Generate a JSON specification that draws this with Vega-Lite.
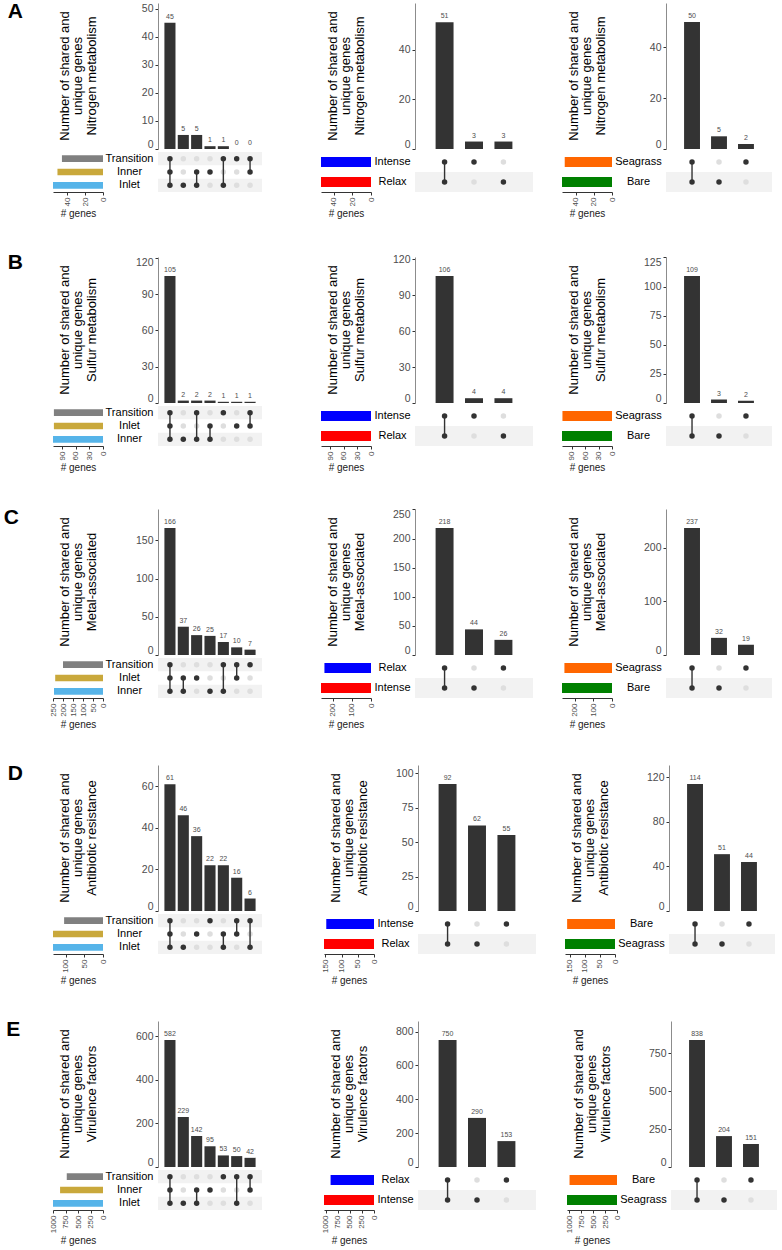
{
  "$schema": "https://vega.github.io/schema/vega-lite/v6.json",
  "padding": {"left": 3, "top": 1, "right": 2, "bottom": 2},
  "background": "white",
  "config": {
    "font": "Liberation Sans",
    "view": {"stroke": null},
    "axis": {"grid": false, "labelColor": "#4d4d4d", "tickColor": "#333333", "tickSize": 3, "labelPadding": 2, "titleFontWeight": "normal", "titleColor": "#1a1a1a", "domainColor": "#333333"},
    "title": {"orient": "left", "anchor": "end", "angle": 0, "align": "right", "baseline": "top", "fontSize": 21, "fontWeight": "bold", "offset": 15, "dy": -2, "color": "#000000"}
  },
  "datasets": {
    "panels": [
      {"p": "A1", "label": "Number of shared and\nunique genes\nNitrogen metabolism"},
      {"p": "A2", "label": "Number of shared and\nunique genes\nNitrogen metabolism"},
      {"p": "A3", "label": "Number of shared and\nunique genes\nNitrogen metabolism"},
      {"p": "B1", "label": "Number of shared and\nunique genes\nSulfur metabolism"},
      {"p": "B2", "label": "Number of shared and\nunique genes\nSulfur metabolism"},
      {"p": "B3", "label": "Number of shared and\nunique genes\nSulfur metabolism"},
      {"p": "C1", "label": "Number of shared and\nunique genes\nMetal-associated"},
      {"p": "C2", "label": "Number of shared and\nunique genes\nMetal-associated"},
      {"p": "C3", "label": "Number of shared and\nunique genes\nMetal-associated"},
      {"p": "D1", "label": "Number of shared and\nunique genes\nAntibiotic resistance"},
      {"p": "D2", "label": "Number of shared and\nunique genes\nAntibiotic resistance"},
      {"p": "D3", "label": "Number of shared and\nunique genes\nAntibiotic resistance"},
      {"p": "E1", "label": "Number of shared and\nunique genes\nVirulence factors"},
      {"p": "E2", "label": "Number of shared and\nunique genes\nVirulence factors"},
      {"p": "E3", "label": "Number of shared and\nunique genes\nVirulence factors"}
    ],
    "sets": [
      {"p": "A1", "set": "Transition", "r": 1, "size": 46},
      {"p": "A1", "set": "Inner", "r": 2, "size": 51},
      {"p": "A1", "set": "Inlet", "r": 3, "size": 56},
      {"p": "A2", "set": "Intense", "r": 1, "size": 54},
      {"p": "A2", "set": "Relax", "r": 2, "size": 54},
      {"p": "A3", "set": "Seagrass", "r": 1, "size": 52},
      {"p": "A3", "set": "Bare", "r": 2, "size": 55},
      {"p": "B1", "set": "Transition", "r": 1, "size": 109},
      {"p": "B1", "set": "Inlet", "r": 2, "size": 109},
      {"p": "B1", "set": "Inner", "r": 3, "size": 111},
      {"p": "B2", "set": "Intense", "r": 1, "size": 110},
      {"p": "B2", "set": "Relax", "r": 2, "size": 110},
      {"p": "B3", "set": "Seagrass", "r": 1, "size": 111},
      {"p": "B3", "set": "Bare", "r": 2, "size": 112},
      {"p": "C1", "set": "Transition", "r": 1, "size": 200},
      {"p": "C1", "set": "Inlet", "r": 2, "size": 239},
      {"p": "C1", "set": "Inner", "r": 3, "size": 245},
      {"p": "C2", "set": "Relax", "r": 1, "size": 244},
      {"p": "C2", "set": "Intense", "r": 2, "size": 262},
      {"p": "C3", "set": "Seagrass", "r": 1, "size": 256},
      {"p": "C3", "set": "Bare", "r": 2, "size": 269},
      {"p": "D1", "set": "Transition", "r": 1, "size": 105},
      {"p": "D1", "set": "Inner", "r": 2, "size": 135},
      {"p": "D1", "set": "Inlet", "r": 3, "size": 135},
      {"p": "D2", "set": "Intense", "r": 1, "size": 147},
      {"p": "D2", "set": "Relax", "r": 2, "size": 154},
      {"p": "D3", "set": "Bare", "r": 1, "size": 158},
      {"p": "D3", "set": "Seagrass", "r": 2, "size": 165},
      {"p": "E1", "set": "Transition", "r": 1, "size": 727},
      {"p": "E1", "set": "Inner", "r": 2, "size": 861},
      {"p": "E1", "set": "Inlet", "r": 3, "size": 1003},
      {"p": "E2", "set": "Relax", "r": 1, "size": 903},
      {"p": "E2", "set": "Intense", "r": 2, "size": 1040},
      {"p": "E3", "set": "Bare", "r": 1, "size": 989},
      {"p": "E3", "set": "Seagrass", "r": 2, "size": 1042}
    ],
    "inter": [
      {"p": "A1", "i": 1, "n": 45, "Transition": 1, "Inner": 1, "Inlet": 1},
      {"p": "A1", "i": 2, "n": 5, "Transition": 0, "Inner": 0, "Inlet": 1},
      {"p": "A1", "i": 3, "n": 5, "Transition": 0, "Inner": 1, "Inlet": 1},
      {"p": "A1", "i": 4, "n": 1, "Transition": 0, "Inner": 1, "Inlet": 0},
      {"p": "A1", "i": 5, "n": 1, "Transition": 1, "Inner": 0, "Inlet": 1},
      {"p": "A1", "i": 6, "n": 0, "Transition": 1, "Inner": 0, "Inlet": 0},
      {"p": "A1", "i": 7, "n": 0, "Transition": 1, "Inner": 1, "Inlet": 0},
      {"p": "A2", "i": 1, "n": 51, "Intense": 1, "Relax": 1},
      {"p": "A2", "i": 2, "n": 3, "Intense": 1, "Relax": 0},
      {"p": "A2", "i": 3, "n": 3, "Intense": 0, "Relax": 1},
      {"p": "A3", "i": 1, "n": 50, "Seagrass": 1, "Bare": 1},
      {"p": "A3", "i": 2, "n": 5, "Seagrass": 0, "Bare": 1},
      {"p": "A3", "i": 3, "n": 2, "Seagrass": 1, "Bare": 0},
      {"p": "B1", "i": 1, "n": 105, "Transition": 1, "Inlet": 1, "Inner": 1},
      {"p": "B1", "i": 2, "n": 2, "Transition": 0, "Inlet": 0, "Inner": 1},
      {"p": "B1", "i": 3, "n": 2, "Transition": 1, "Inlet": 0, "Inner": 1},
      {"p": "B1", "i": 4, "n": 2, "Transition": 0, "Inlet": 1, "Inner": 1},
      {"p": "B1", "i": 5, "n": 1, "Transition": 1, "Inlet": 0, "Inner": 0},
      {"p": "B1", "i": 6, "n": 1, "Transition": 0, "Inlet": 1, "Inner": 0},
      {"p": "B1", "i": 7, "n": 1, "Transition": 1, "Inlet": 1, "Inner": 0},
      {"p": "B2", "i": 1, "n": 106, "Intense": 1, "Relax": 1},
      {"p": "B2", "i": 2, "n": 4, "Intense": 1, "Relax": 0},
      {"p": "B2", "i": 3, "n": 4, "Intense": 0, "Relax": 1},
      {"p": "B3", "i": 1, "n": 109, "Seagrass": 1, "Bare": 1},
      {"p": "B3", "i": 2, "n": 3, "Seagrass": 0, "Bare": 1},
      {"p": "B3", "i": 3, "n": 2, "Seagrass": 1, "Bare": 0},
      {"p": "C1", "i": 1, "n": 166, "Transition": 1, "Inlet": 1, "Inner": 1},
      {"p": "C1", "i": 2, "n": 37, "Transition": 0, "Inlet": 1, "Inner": 1},
      {"p": "C1", "i": 3, "n": 26, "Transition": 0, "Inlet": 1, "Inner": 0},
      {"p": "C1", "i": 4, "n": 25, "Transition": 0, "Inlet": 0, "Inner": 1},
      {"p": "C1", "i": 5, "n": 17, "Transition": 1, "Inlet": 0, "Inner": 1},
      {"p": "C1", "i": 6, "n": 10, "Transition": 1, "Inlet": 1, "Inner": 0},
      {"p": "C1", "i": 7, "n": 7, "Transition": 1, "Inlet": 0, "Inner": 0},
      {"p": "C2", "i": 1, "n": 218, "Relax": 1, "Intense": 1},
      {"p": "C2", "i": 2, "n": 44, "Relax": 0, "Intense": 1},
      {"p": "C2", "i": 3, "n": 26, "Relax": 1, "Intense": 0},
      {"p": "C3", "i": 1, "n": 237, "Seagrass": 1, "Bare": 1},
      {"p": "C3", "i": 2, "n": 32, "Seagrass": 0, "Bare": 1},
      {"p": "C3", "i": 3, "n": 19, "Seagrass": 1, "Bare": 0},
      {"p": "D1", "i": 1, "n": 61, "Transition": 1, "Inner": 1, "Inlet": 1},
      {"p": "D1", "i": 2, "n": 46, "Transition": 0, "Inner": 0, "Inlet": 1},
      {"p": "D1", "i": 3, "n": 36, "Transition": 0, "Inner": 1, "Inlet": 0},
      {"p": "D1", "i": 4, "n": 22, "Transition": 1, "Inner": 0, "Inlet": 0},
      {"p": "D1", "i": 5, "n": 22, "Transition": 0, "Inner": 1, "Inlet": 1},
      {"p": "D1", "i": 6, "n": 16, "Transition": 1, "Inner": 1, "Inlet": 0},
      {"p": "D1", "i": 7, "n": 6, "Transition": 1, "Inner": 0, "Inlet": 1},
      {"p": "D2", "i": 1, "n": 92, "Intense": 1, "Relax": 1},
      {"p": "D2", "i": 2, "n": 62, "Intense": 0, "Relax": 1},
      {"p": "D2", "i": 3, "n": 55, "Intense": 1, "Relax": 0},
      {"p": "D3", "i": 1, "n": 114, "Bare": 1, "Seagrass": 1},
      {"p": "D3", "i": 2, "n": 51, "Bare": 0, "Seagrass": 1},
      {"p": "D3", "i": 3, "n": 44, "Bare": 1, "Seagrass": 0},
      {"p": "E1", "i": 1, "n": 582, "Transition": 1, "Inner": 1, "Inlet": 1},
      {"p": "E1", "i": 2, "n": 229, "Transition": 0, "Inner": 0, "Inlet": 1},
      {"p": "E1", "i": 3, "n": 142, "Transition": 0, "Inner": 1, "Inlet": 1},
      {"p": "E1", "i": 4, "n": 95, "Transition": 0, "Inner": 1, "Inlet": 0},
      {"p": "E1", "i": 5, "n": 53, "Transition": 1, "Inner": 0, "Inlet": 0},
      {"p": "E1", "i": 6, "n": 50, "Transition": 1, "Inner": 0, "Inlet": 1},
      {"p": "E1", "i": 7, "n": 42, "Transition": 1, "Inner": 1, "Inlet": 0},
      {"p": "E2", "i": 1, "n": 750, "Relax": 1, "Intense": 1},
      {"p": "E2", "i": 2, "n": 290, "Relax": 0, "Intense": 1},
      {"p": "E2", "i": 3, "n": 153, "Relax": 1, "Intense": 0},
      {"p": "E3", "i": 1, "n": 838, "Bare": 1, "Seagrass": 1},
      {"p": "E3", "i": 2, "n": 204, "Bare": 0, "Seagrass": 1},
      {"p": "E3", "i": 3, "n": 151, "Bare": 1, "Seagrass": 0}
    ]
  },
  "spacing": 33,
  "resolve": {"scale": {"x": "independent", "y": "independent", "color": "independent"}},
  "vconcat": [
    {
      "title": {"text": "A"},
      "spacing": 29,
      "resolve": {"scale": {"x": "independent", "y": "independent", "color": "independent"}},
      "hconcat": [
        {"columns": 2, "spacing": {"row": 2, "column": -2}, "resolve": {"scale": {"x": "independent", "y": "independent", "color": "independent"}},
         "concat": [
          {"width": 50, "height": 146, "data": {"name": "panels"}, "transform": [{"filter": "datum.p == 'A1'"}],
           "mark": {"type": "text", "angle": 270, "lineBreak": "\n", "fontSize": 13, "lineHeight": 13.5, "dy": -13.5, "color": "#000000"},
           "encoding": {"text": {"field": "label", "type": "nominal"}}},
          {"width": 104, "height": 146, "data": {"name": "inter"}, "transform": [{"filter": "datum.p == 'A1'"}],
           "encoding": {
             "x": {"field": "i", "type": "ordinal", "axis": null, "scale": {"paddingInner": 0.17, "paddingOuter": 0.48}},
             "y": {"field": "n", "type": "quantitative", "scale": {"domain": [0, 52], "nice": false},
                   "axis": {"values": [0, 10, 20, 30, 40, 50], "title": null, "labelFontSize": 10.5, "labelFlush": true, "domainColor": "#8c8c8c"}}},
           "layer": [
             {"mark": {"type": "bar", "color": "#333333"}},
             {"mark": {"type": "text", "baseline": "bottom", "dy": -3, "fontSize": 7, "color": "#4d4d4d"}, "encoding": {"text": {"field": "n", "type": "quantitative"}}}
           ]},
          {"width": 50, "height": 40, "data": {"name": "sets"}, "transform": [{"filter": "datum.p == 'A1'"}],
           "mark": {"type": "bar"},
           "encoding": {
             "y": {"field": "set", "type": "nominal", "axis": null, "scale": {"domain": ["Transition", "Inner", "Inlet"], "paddingInner": 0.5, "paddingOuter": 0.25}},
             "x": {"field": "size", "type": "quantitative", "scale": {"domain": [0, 56], "reverse": true, "nice": false},
                   "axis": {"values": [0, 20, 40], "labelAngle": 270, "labelFontSize": 8, "title": "# genes", "titleFontSize": 10, "titlePadding": 3}},
             "color": {"field": "r", "type": "nominal", "scale": {"domain": [1, 2, 3], "range": ["#808080", "#C9A83B", "#56B4E9"]}, "legend": null}}},
          {"width": 104, "height": 40,
           "layer": [
             {"data": {"name": "sets"}, "transform": [{"filter": "datum.p == 'A1' && datum.r != 2"}],
              "mark": {"type": "rect", "color": "#f2f2f2"},
              "encoding": {"y": {"field": "set", "type": "nominal", "scale": {"domain": ["Transition", "Inner", "Inlet"], "paddingInner": 0, "paddingOuter": 0},
                "axis": {"title": null, "domain": false, "ticks": false, "tickSize": 0, "labelAlign": "center", "labelPadding": 29, "labelFontSize": 11, "labelColor": "#000000"}}}},
             {"data": {"name": "inter"}, "transform": [{"filter": "datum.p == 'A1'"}, {"fold": ["Transition", "Inner", "Inlet"], "as": ["set", "on"]}],
              "mark": {"type": "circle", "size": 30, "opacity": 1},
              "encoding": {
                "x": {"field": "i", "type": "ordinal", "axis": null, "bandPosition": 0.5, "scale": {"type": "band", "paddingInner": 0.17, "paddingOuter": 0.48}},
                "y": {"field": "set", "type": "nominal", "bandPosition": 0.5, "scale": {"domain": ["Transition", "Inner", "Inlet"], "paddingInner": 0, "paddingOuter": 0},
                  "axis": {"title": null, "domain": false, "ticks": false, "tickSize": 0, "labelAlign": "center", "labelPadding": 29, "labelFontSize": 11, "labelColor": "#000000"}},
                "color": {"field": "on", "type": "nominal", "scale": {"domain": [0, 1], "range": ["#dedede", "#333333"]}, "legend": null}}},
             {"data": {"name": "inter"}, "transform": [{"filter": "datum.p == 'A1'"}, {"fold": ["Transition", "Inner", "Inlet"], "as": ["set", "on"]}, {"filter": "datum.on == 1"}],
              "mark": {"type": "line", "color": "#333333", "strokeWidth": 1.4},
              "encoding": {
                "x": {"field": "i", "type": "ordinal", "axis": null, "bandPosition": 0.5, "scale": {"type": "band", "paddingInner": 0.17, "paddingOuter": 0.48}},
                "y": {"field": "set", "type": "nominal", "bandPosition": 0.5, "scale": {"domain": ["Transition", "Inner", "Inlet"], "paddingInner": 0, "paddingOuter": 0},
                  "axis": {"title": null, "domain": false, "ticks": false, "tickSize": 0, "labelAlign": "center", "labelPadding": 29, "labelFontSize": 11, "labelColor": "#000000"}},
                "detail": {"field": "i", "type": "ordinal"}}}
           ]}
        ]},
        {"width": 1, "height": 1, "data": {"values": []}, "mark": {"type": "point", "opacity": 0}, "encoding": {}},
        {"columns": 2, "spacing": {"row": 2, "column": -2}, "resolve": {"scale": {"x": "independent", "y": "independent", "color": "independent"}},
         "concat": [
          {"width": 50, "height": 146, "data": {"name": "panels"}, "transform": [{"filter": "datum.p == 'A2'"}],
           "mark": {"type": "text", "angle": 270, "lineBreak": "\n", "fontSize": 13, "lineHeight": 13.5, "dy": -13.5, "color": "#000000"},
           "encoding": {"text": {"field": "label", "type": "nominal"}}},
          {"width": 118, "height": 146, "data": {"name": "inter"}, "transform": [{"filter": "datum.p == 'A2'"}],
           "encoding": {
             "x": {"field": "i", "type": "ordinal", "axis": null, "scale": {"paddingInner": 0.39, "paddingOuter": 0.7}},
             "y": {"field": "n", "type": "quantitative", "scale": {"domain": [0, 58.7], "nice": false},
                   "axis": {"values": [0, 20, 40], "title": null, "labelFontSize": 10.5, "labelFlush": true, "domainColor": "#8c8c8c"}}},
           "layer": [
             {"mark": {"type": "bar", "color": "#333333"}},
             {"mark": {"type": "text", "baseline": "bottom", "dy": -3, "fontSize": 7, "color": "#4d4d4d"}, "encoding": {"text": {"field": "n", "type": "quantitative"}}}
           ]},
          {"width": 50, "height": 40, "data": {"name": "sets"}, "transform": [{"filter": "datum.p == 'A2'"}],
           "mark": {"type": "bar"},
           "encoding": {
             "y": {"field": "set", "type": "nominal", "axis": null, "scale": {"domain": ["Intense", "Relax"], "paddingInner": 0.5, "paddingOuter": 0.25}},
             "x": {"field": "size", "type": "quantitative", "scale": {"domain": [0, 54], "reverse": true, "nice": false},
                   "axis": {"values": [0, 20, 40], "labelAngle": 270, "labelFontSize": 8, "title": "# genes", "titleFontSize": 10, "titlePadding": 3}},
             "color": {"field": "r", "type": "nominal", "scale": {"domain": [1, 2], "range": ["#0000FF", "#FF0000"]}, "legend": null}}},
          {"width": 118, "height": 40,
           "layer": [
             {"data": {"name": "sets"}, "transform": [{"filter": "datum.p == 'A2' && datum.r == 2"}],
              "mark": {"type": "rect", "color": "#f2f2f2"},
              "encoding": {"y": {"field": "set", "type": "nominal", "scale": {"domain": ["Intense", "Relax"], "paddingInner": 0, "paddingOuter": 0},
                "axis": {"title": null, "domain": false, "ticks": false, "tickSize": 0, "labelAlign": "center", "labelPadding": 23, "labelFontSize": 11, "labelColor": "#000000"}}}},
             {"data": {"name": "inter"}, "transform": [{"filter": "datum.p == 'A2'"}, {"fold": ["Intense", "Relax"], "as": ["set", "on"]}],
              "mark": {"type": "circle", "size": 30, "opacity": 1},
              "encoding": {
                "x": {"field": "i", "type": "ordinal", "axis": null, "bandPosition": 0.5, "scale": {"type": "band", "paddingInner": 0.39, "paddingOuter": 0.7}},
                "y": {"field": "set", "type": "nominal", "bandPosition": 0.5, "scale": {"domain": ["Intense", "Relax"], "paddingInner": 0, "paddingOuter": 0},
                  "axis": {"title": null, "domain": false, "ticks": false, "tickSize": 0, "labelAlign": "center", "labelPadding": 23, "labelFontSize": 11, "labelColor": "#000000"}},
                "color": {"field": "on", "type": "nominal", "scale": {"domain": [0, 1], "range": ["#dedede", "#333333"]}, "legend": null}}},
             {"data": {"name": "inter"}, "transform": [{"filter": "datum.p == 'A2'"}, {"fold": ["Intense", "Relax"], "as": ["set", "on"]}, {"filter": "datum.on == 1"}],
              "mark": {"type": "line", "color": "#333333", "strokeWidth": 1.4},
              "encoding": {
                "x": {"field": "i", "type": "ordinal", "axis": null, "bandPosition": 0.5, "scale": {"type": "band", "paddingInner": 0.39, "paddingOuter": 0.7}},
                "y": {"field": "set", "type": "nominal", "bandPosition": 0.5, "scale": {"domain": ["Intense", "Relax"], "paddingInner": 0, "paddingOuter": 0},
                  "axis": {"title": null, "domain": false, "ticks": false, "tickSize": 0, "labelAlign": "center", "labelPadding": 23, "labelFontSize": 11, "labelColor": "#000000"}},
                "detail": {"field": "i", "type": "ordinal"}}}
           ]}
        ]},
        {"columns": 2, "spacing": {"row": 2, "column": -2}, "resolve": {"scale": {"x": "independent", "y": "independent", "color": "independent"}},
         "concat": [
          {"width": 50, "height": 146, "data": {"name": "panels"}, "transform": [{"filter": "datum.p == 'A3'"}],
           "mark": {"type": "text", "angle": 270, "lineBreak": "\n", "fontSize": 13, "lineHeight": 13.5, "dy": -13.5, "color": "#000000"},
           "encoding": {"text": {"field": "label", "type": "nominal"}}},
          {"width": 106, "height": 146, "data": {"name": "inter"}, "transform": [{"filter": "datum.p == 'A3'"}],
           "encoding": {
             "x": {"field": "i", "type": "ordinal", "axis": null, "scale": {"paddingInner": 0.41, "paddingOuter": 0.67}},
             "y": {"field": "n", "type": "quantitative", "scale": {"domain": [0, 57.5], "nice": false},
                   "axis": {"values": [0, 20, 40], "title": null, "labelFontSize": 10.5, "labelFlush": true, "domainColor": "#8c8c8c"}}},
           "layer": [
             {"mark": {"type": "bar", "color": "#333333"}},
             {"mark": {"type": "text", "baseline": "bottom", "dy": -3, "fontSize": 7, "color": "#4d4d4d"}, "encoding": {"text": {"field": "n", "type": "quantitative"}}}
           ]},
          {"width": 50, "height": 40, "data": {"name": "sets"}, "transform": [{"filter": "datum.p == 'A3'"}],
           "mark": {"type": "bar"},
           "encoding": {
             "y": {"field": "set", "type": "nominal", "axis": null, "scale": {"domain": ["Seagrass", "Bare"], "paddingInner": 0.5, "paddingOuter": 0.25}},
             "x": {"field": "size", "type": "quantitative", "scale": {"domain": [0, 55], "reverse": true, "nice": false},
                   "axis": {"values": [0, 20, 40], "labelAngle": 270, "labelFontSize": 8, "title": "# genes", "titleFontSize": 10, "titlePadding": 3}},
             "color": {"field": "r", "type": "nominal", "scale": {"domain": [1, 2], "range": ["#FF6600", "#008000"]}, "legend": null}}},
          {"width": 106, "height": 40,
           "layer": [
             {"data": {"name": "sets"}, "transform": [{"filter": "datum.p == 'A3' && datum.r == 2"}],
              "mark": {"type": "rect", "color": "#f2f2f2"},
              "encoding": {"y": {"field": "set", "type": "nominal", "scale": {"domain": ["Seagrass", "Bare"], "paddingInner": 0, "paddingOuter": 0},
                "axis": {"title": null, "domain": false, "ticks": false, "tickSize": 0, "labelAlign": "center", "labelPadding": 28, "labelFontSize": 11, "labelColor": "#000000"}}}},
             {"data": {"name": "inter"}, "transform": [{"filter": "datum.p == 'A3'"}, {"fold": ["Seagrass", "Bare"], "as": ["set", "on"]}],
              "mark": {"type": "circle", "size": 30, "opacity": 1},
              "encoding": {
                "x": {"field": "i", "type": "ordinal", "axis": null, "bandPosition": 0.5, "scale": {"type": "band", "paddingInner": 0.41, "paddingOuter": 0.67}},
                "y": {"field": "set", "type": "nominal", "bandPosition": 0.5, "scale": {"domain": ["Seagrass", "Bare"], "paddingInner": 0, "paddingOuter": 0},
                  "axis": {"title": null, "domain": false, "ticks": false, "tickSize": 0, "labelAlign": "center", "labelPadding": 28, "labelFontSize": 11, "labelColor": "#000000"}},
                "color": {"field": "on", "type": "nominal", "scale": {"domain": [0, 1], "range": ["#dedede", "#333333"]}, "legend": null}}},
             {"data": {"name": "inter"}, "transform": [{"filter": "datum.p == 'A3'"}, {"fold": ["Seagrass", "Bare"], "as": ["set", "on"]}, {"filter": "datum.on == 1"}],
              "mark": {"type": "line", "color": "#333333", "strokeWidth": 1.4},
              "encoding": {
                "x": {"field": "i", "type": "ordinal", "axis": null, "bandPosition": 0.5, "scale": {"type": "band", "paddingInner": 0.41, "paddingOuter": 0.67}},
                "y": {"field": "set", "type": "nominal", "bandPosition": 0.5, "scale": {"domain": ["Seagrass", "Bare"], "paddingInner": 0, "paddingOuter": 0},
                  "axis": {"title": null, "domain": false, "ticks": false, "tickSize": 0, "labelAlign": "center", "labelPadding": 28, "labelFontSize": 11, "labelColor": "#000000"}},
                "detail": {"field": "i", "type": "ordinal"}}}
           ]}
        ]}
      ]
    },
    {
      "title": {"text": "B"},
      "spacing": 29,
      "resolve": {"scale": {"x": "independent", "y": "independent", "color": "independent"}},
      "hconcat": [
        {"columns": 2, "spacing": {"row": 2, "column": -2}, "resolve": {"scale": {"x": "independent", "y": "independent", "color": "independent"}},
         "concat": [
          {"width": 50, "height": 146, "data": {"name": "panels"}, "transform": [{"filter": "datum.p == 'B1'"}],
           "mark": {"type": "text", "angle": 270, "lineBreak": "\n", "fontSize": 13, "lineHeight": 13.5, "dy": -13.5, "color": "#000000"},
           "encoding": {"text": {"field": "label", "type": "nominal"}}},
          {"width": 104, "height": 146, "data": {"name": "inter"}, "transform": [{"filter": "datum.p == 'B1'"}],
           "encoding": {
             "x": {"field": "i", "type": "ordinal", "axis": null, "scale": {"paddingInner": 0.17, "paddingOuter": 0.48}},
             "y": {"field": "n", "type": "quantitative", "scale": {"domain": [0, 120.8], "nice": false},
                   "axis": {"values": [0, 30, 60, 90, 120], "title": null, "labelFontSize": 10.5, "labelFlush": true, "domainColor": "#8c8c8c"}}},
           "layer": [
             {"mark": {"type": "bar", "color": "#333333"}},
             {"mark": {"type": "text", "baseline": "bottom", "dy": -3, "fontSize": 7, "color": "#4d4d4d"}, "encoding": {"text": {"field": "n", "type": "quantitative"}}}
           ]},
          {"width": 50, "height": 40, "data": {"name": "sets"}, "transform": [{"filter": "datum.p == 'B1'"}],
           "mark": {"type": "bar"},
           "encoding": {
             "y": {"field": "set", "type": "nominal", "axis": null, "scale": {"domain": ["Transition", "Inlet", "Inner"], "paddingInner": 0.5, "paddingOuter": 0.25}},
             "x": {"field": "size", "type": "quantitative", "scale": {"domain": [0, 111], "reverse": true, "nice": false},
                   "axis": {"values": [0, 30, 60, 90], "labelAngle": 270, "labelFontSize": 8, "title": "# genes", "titleFontSize": 10, "titlePadding": 3}},
             "color": {"field": "r", "type": "nominal", "scale": {"domain": [1, 2, 3], "range": ["#808080", "#C9A83B", "#56B4E9"]}, "legend": null}}},
          {"width": 104, "height": 40,
           "layer": [
             {"data": {"name": "sets"}, "transform": [{"filter": "datum.p == 'B1' && datum.r != 2"}],
              "mark": {"type": "rect", "color": "#f2f2f2"},
              "encoding": {"y": {"field": "set", "type": "nominal", "scale": {"domain": ["Transition", "Inlet", "Inner"], "paddingInner": 0, "paddingOuter": 0},
                "axis": {"title": null, "domain": false, "ticks": false, "tickSize": 0, "labelAlign": "center", "labelPadding": 29, "labelFontSize": 11, "labelColor": "#000000"}}}},
             {"data": {"name": "inter"}, "transform": [{"filter": "datum.p == 'B1'"}, {"fold": ["Transition", "Inlet", "Inner"], "as": ["set", "on"]}],
              "mark": {"type": "circle", "size": 30, "opacity": 1},
              "encoding": {
                "x": {"field": "i", "type": "ordinal", "axis": null, "bandPosition": 0.5, "scale": {"type": "band", "paddingInner": 0.17, "paddingOuter": 0.48}},
                "y": {"field": "set", "type": "nominal", "bandPosition": 0.5, "scale": {"domain": ["Transition", "Inlet", "Inner"], "paddingInner": 0, "paddingOuter": 0},
                  "axis": {"title": null, "domain": false, "ticks": false, "tickSize": 0, "labelAlign": "center", "labelPadding": 29, "labelFontSize": 11, "labelColor": "#000000"}},
                "color": {"field": "on", "type": "nominal", "scale": {"domain": [0, 1], "range": ["#dedede", "#333333"]}, "legend": null}}},
             {"data": {"name": "inter"}, "transform": [{"filter": "datum.p == 'B1'"}, {"fold": ["Transition", "Inlet", "Inner"], "as": ["set", "on"]}, {"filter": "datum.on == 1"}],
              "mark": {"type": "line", "color": "#333333", "strokeWidth": 1.4},
              "encoding": {
                "x": {"field": "i", "type": "ordinal", "axis": null, "bandPosition": 0.5, "scale": {"type": "band", "paddingInner": 0.17, "paddingOuter": 0.48}},
                "y": {"field": "set", "type": "nominal", "bandPosition": 0.5, "scale": {"domain": ["Transition", "Inlet", "Inner"], "paddingInner": 0, "paddingOuter": 0},
                  "axis": {"title": null, "domain": false, "ticks": false, "tickSize": 0, "labelAlign": "center", "labelPadding": 29, "labelFontSize": 11, "labelColor": "#000000"}},
                "detail": {"field": "i", "type": "ordinal"}}}
           ]}
        ]},
        {"width": 1, "height": 1, "data": {"values": []}, "mark": {"type": "point", "opacity": 0}, "encoding": {}},
        {"columns": 2, "spacing": {"row": 2, "column": -2}, "resolve": {"scale": {"x": "independent", "y": "independent", "color": "independent"}},
         "concat": [
          {"width": 50, "height": 146, "data": {"name": "panels"}, "transform": [{"filter": "datum.p == 'B2'"}],
           "mark": {"type": "text", "angle": 270, "lineBreak": "\n", "fontSize": 13, "lineHeight": 13.5, "dy": -13.5, "color": "#000000"},
           "encoding": {"text": {"field": "label", "type": "nominal"}}},
          {"width": 118, "height": 146, "data": {"name": "inter"}, "transform": [{"filter": "datum.p == 'B2'"}],
           "encoding": {
             "x": {"field": "i", "type": "ordinal", "axis": null, "scale": {"paddingInner": 0.39, "paddingOuter": 0.7}},
             "y": {"field": "n", "type": "quantitative", "scale": {"domain": [0, 121.9], "nice": false},
                   "axis": {"values": [0, 30, 60, 90, 120], "title": null, "labelFontSize": 10.5, "labelFlush": true, "domainColor": "#8c8c8c"}}},
           "layer": [
             {"mark": {"type": "bar", "color": "#333333"}},
             {"mark": {"type": "text", "baseline": "bottom", "dy": -3, "fontSize": 7, "color": "#4d4d4d"}, "encoding": {"text": {"field": "n", "type": "quantitative"}}}
           ]},
          {"width": 50, "height": 40, "data": {"name": "sets"}, "transform": [{"filter": "datum.p == 'B2'"}],
           "mark": {"type": "bar"},
           "encoding": {
             "y": {"field": "set", "type": "nominal", "axis": null, "scale": {"domain": ["Intense", "Relax"], "paddingInner": 0.5, "paddingOuter": 0.25}},
             "x": {"field": "size", "type": "quantitative", "scale": {"domain": [0, 110], "reverse": true, "nice": false},
                   "axis": {"values": [0, 30, 60, 90], "labelAngle": 270, "labelFontSize": 8, "title": "# genes", "titleFontSize": 10, "titlePadding": 3}},
             "color": {"field": "r", "type": "nominal", "scale": {"domain": [1, 2], "range": ["#0000FF", "#FF0000"]}, "legend": null}}},
          {"width": 118, "height": 40,
           "layer": [
             {"data": {"name": "sets"}, "transform": [{"filter": "datum.p == 'B2' && datum.r == 2"}],
              "mark": {"type": "rect", "color": "#f2f2f2"},
              "encoding": {"y": {"field": "set", "type": "nominal", "scale": {"domain": ["Intense", "Relax"], "paddingInner": 0, "paddingOuter": 0},
                "axis": {"title": null, "domain": false, "ticks": false, "tickSize": 0, "labelAlign": "center", "labelPadding": 23, "labelFontSize": 11, "labelColor": "#000000"}}}},
             {"data": {"name": "inter"}, "transform": [{"filter": "datum.p == 'B2'"}, {"fold": ["Intense", "Relax"], "as": ["set", "on"]}],
              "mark": {"type": "circle", "size": 30, "opacity": 1},
              "encoding": {
                "x": {"field": "i", "type": "ordinal", "axis": null, "bandPosition": 0.5, "scale": {"type": "band", "paddingInner": 0.39, "paddingOuter": 0.7}},
                "y": {"field": "set", "type": "nominal", "bandPosition": 0.5, "scale": {"domain": ["Intense", "Relax"], "paddingInner": 0, "paddingOuter": 0},
                  "axis": {"title": null, "domain": false, "ticks": false, "tickSize": 0, "labelAlign": "center", "labelPadding": 23, "labelFontSize": 11, "labelColor": "#000000"}},
                "color": {"field": "on", "type": "nominal", "scale": {"domain": [0, 1], "range": ["#dedede", "#333333"]}, "legend": null}}},
             {"data": {"name": "inter"}, "transform": [{"filter": "datum.p == 'B2'"}, {"fold": ["Intense", "Relax"], "as": ["set", "on"]}, {"filter": "datum.on == 1"}],
              "mark": {"type": "line", "color": "#333333", "strokeWidth": 1.4},
              "encoding": {
                "x": {"field": "i", "type": "ordinal", "axis": null, "bandPosition": 0.5, "scale": {"type": "band", "paddingInner": 0.39, "paddingOuter": 0.7}},
                "y": {"field": "set", "type": "nominal", "bandPosition": 0.5, "scale": {"domain": ["Intense", "Relax"], "paddingInner": 0, "paddingOuter": 0},
                  "axis": {"title": null, "domain": false, "ticks": false, "tickSize": 0, "labelAlign": "center", "labelPadding": 23, "labelFontSize": 11, "labelColor": "#000000"}},
                "detail": {"field": "i", "type": "ordinal"}}}
           ]}
        ]},
        {"columns": 2, "spacing": {"row": 2, "column": -2}, "resolve": {"scale": {"x": "independent", "y": "independent", "color": "independent"}},
         "concat": [
          {"width": 50, "height": 146, "data": {"name": "panels"}, "transform": [{"filter": "datum.p == 'B3'"}],
           "mark": {"type": "text", "angle": 270, "lineBreak": "\n", "fontSize": 13, "lineHeight": 13.5, "dy": -13.5, "color": "#000000"},
           "encoding": {"text": {"field": "label", "type": "nominal"}}},
          {"width": 106, "height": 146, "data": {"name": "inter"}, "transform": [{"filter": "datum.p == 'B3'"}],
           "encoding": {
             "x": {"field": "i", "type": "ordinal", "axis": null, "scale": {"paddingInner": 0.41, "paddingOuter": 0.67}},
             "y": {"field": "n", "type": "quantitative", "scale": {"domain": [0, 125.4], "nice": false},
                   "axis": {"values": [0, 25, 50, 75, 100, 125], "title": null, "labelFontSize": 10.5, "labelFlush": true, "domainColor": "#8c8c8c"}}},
           "layer": [
             {"mark": {"type": "bar", "color": "#333333"}},
             {"mark": {"type": "text", "baseline": "bottom", "dy": -3, "fontSize": 7, "color": "#4d4d4d"}, "encoding": {"text": {"field": "n", "type": "quantitative"}}}
           ]},
          {"width": 50, "height": 40, "data": {"name": "sets"}, "transform": [{"filter": "datum.p == 'B3'"}],
           "mark": {"type": "bar"},
           "encoding": {
             "y": {"field": "set", "type": "nominal", "axis": null, "scale": {"domain": ["Seagrass", "Bare"], "paddingInner": 0.5, "paddingOuter": 0.25}},
             "x": {"field": "size", "type": "quantitative", "scale": {"domain": [0, 112], "reverse": true, "nice": false},
                   "axis": {"values": [0, 30, 60, 90], "labelAngle": 270, "labelFontSize": 8, "title": "# genes", "titleFontSize": 10, "titlePadding": 3}},
             "color": {"field": "r", "type": "nominal", "scale": {"domain": [1, 2], "range": ["#FF6600", "#008000"]}, "legend": null}}},
          {"width": 106, "height": 40,
           "layer": [
             {"data": {"name": "sets"}, "transform": [{"filter": "datum.p == 'B3' && datum.r == 2"}],
              "mark": {"type": "rect", "color": "#f2f2f2"},
              "encoding": {"y": {"field": "set", "type": "nominal", "scale": {"domain": ["Seagrass", "Bare"], "paddingInner": 0, "paddingOuter": 0},
                "axis": {"title": null, "domain": false, "ticks": false, "tickSize": 0, "labelAlign": "center", "labelPadding": 28, "labelFontSize": 11, "labelColor": "#000000"}}}},
             {"data": {"name": "inter"}, "transform": [{"filter": "datum.p == 'B3'"}, {"fold": ["Seagrass", "Bare"], "as": ["set", "on"]}],
              "mark": {"type": "circle", "size": 30, "opacity": 1},
              "encoding": {
                "x": {"field": "i", "type": "ordinal", "axis": null, "bandPosition": 0.5, "scale": {"type": "band", "paddingInner": 0.41, "paddingOuter": 0.67}},
                "y": {"field": "set", "type": "nominal", "bandPosition": 0.5, "scale": {"domain": ["Seagrass", "Bare"], "paddingInner": 0, "paddingOuter": 0},
                  "axis": {"title": null, "domain": false, "ticks": false, "tickSize": 0, "labelAlign": "center", "labelPadding": 28, "labelFontSize": 11, "labelColor": "#000000"}},
                "color": {"field": "on", "type": "nominal", "scale": {"domain": [0, 1], "range": ["#dedede", "#333333"]}, "legend": null}}},
             {"data": {"name": "inter"}, "transform": [{"filter": "datum.p == 'B3'"}, {"fold": ["Seagrass", "Bare"], "as": ["set", "on"]}, {"filter": "datum.on == 1"}],
              "mark": {"type": "line", "color": "#333333", "strokeWidth": 1.4},
              "encoding": {
                "x": {"field": "i", "type": "ordinal", "axis": null, "bandPosition": 0.5, "scale": {"type": "band", "paddingInner": 0.41, "paddingOuter": 0.67}},
                "y": {"field": "set", "type": "nominal", "bandPosition": 0.5, "scale": {"domain": ["Seagrass", "Bare"], "paddingInner": 0, "paddingOuter": 0},
                  "axis": {"title": null, "domain": false, "ticks": false, "tickSize": 0, "labelAlign": "center", "labelPadding": 28, "labelFontSize": 11, "labelColor": "#000000"}},
                "detail": {"field": "i", "type": "ordinal"}}}
           ]}
        ]}
      ]
    },
    {
      "title": {"text": "C"},
      "spacing": 29,
      "resolve": {"scale": {"x": "independent", "y": "independent", "color": "independent"}},
      "hconcat": [
        {"columns": 2, "spacing": {"row": 2, "column": -2}, "resolve": {"scale": {"x": "independent", "y": "independent", "color": "independent"}},
         "concat": [
          {"width": 50, "height": 146, "data": {"name": "panels"}, "transform": [{"filter": "datum.p == 'C1'"}],
           "mark": {"type": "text", "angle": 270, "lineBreak": "\n", "fontSize": 13, "lineHeight": 13.5, "dy": -13.5, "color": "#000000"},
           "encoding": {"text": {"field": "label", "type": "nominal"}}},
          {"width": 104, "height": 146, "data": {"name": "inter"}, "transform": [{"filter": "datum.p == 'C1'"}],
           "encoding": {
             "x": {"field": "i", "type": "ordinal", "axis": null, "scale": {"paddingInner": 0.17, "paddingOuter": 0.48}},
             "y": {"field": "n", "type": "quantitative", "scale": {"domain": [0, 191], "nice": false},
                   "axis": {"values": [0, 50, 100, 150], "title": null, "labelFontSize": 10.5, "labelFlush": true, "domainColor": "#8c8c8c"}}},
           "layer": [
             {"mark": {"type": "bar", "color": "#333333"}},
             {"mark": {"type": "text", "baseline": "bottom", "dy": -3, "fontSize": 7, "color": "#4d4d4d"}, "encoding": {"text": {"field": "n", "type": "quantitative"}}}
           ]},
          {"width": 50, "height": 40, "data": {"name": "sets"}, "transform": [{"filter": "datum.p == 'C1'"}],
           "mark": {"type": "bar"},
           "encoding": {
             "y": {"field": "set", "type": "nominal", "axis": null, "scale": {"domain": ["Transition", "Inlet", "Inner"], "paddingInner": 0.5, "paddingOuter": 0.25}},
             "x": {"field": "size", "type": "quantitative", "scale": {"domain": [0, 250], "reverse": true, "nice": false},
                   "axis": {"values": [0, 50, 100, 150, 200, 250], "labelAngle": 270, "labelFontSize": 8, "title": "# genes", "titleFontSize": 10, "titlePadding": 3}},
             "color": {"field": "r", "type": "nominal", "scale": {"domain": [1, 2, 3], "range": ["#808080", "#C9A83B", "#56B4E9"]}, "legend": null}}},
          {"width": 104, "height": 40,
           "layer": [
             {"data": {"name": "sets"}, "transform": [{"filter": "datum.p == 'C1' && datum.r != 2"}],
              "mark": {"type": "rect", "color": "#f2f2f2"},
              "encoding": {"y": {"field": "set", "type": "nominal", "scale": {"domain": ["Transition", "Inlet", "Inner"], "paddingInner": 0, "paddingOuter": 0},
                "axis": {"title": null, "domain": false, "ticks": false, "tickSize": 0, "labelAlign": "center", "labelPadding": 29, "labelFontSize": 11, "labelColor": "#000000"}}}},
             {"data": {"name": "inter"}, "transform": [{"filter": "datum.p == 'C1'"}, {"fold": ["Transition", "Inlet", "Inner"], "as": ["set", "on"]}],
              "mark": {"type": "circle", "size": 30, "opacity": 1},
              "encoding": {
                "x": {"field": "i", "type": "ordinal", "axis": null, "bandPosition": 0.5, "scale": {"type": "band", "paddingInner": 0.17, "paddingOuter": 0.48}},
                "y": {"field": "set", "type": "nominal", "bandPosition": 0.5, "scale": {"domain": ["Transition", "Inlet", "Inner"], "paddingInner": 0, "paddingOuter": 0},
                  "axis": {"title": null, "domain": false, "ticks": false, "tickSize": 0, "labelAlign": "center", "labelPadding": 29, "labelFontSize": 11, "labelColor": "#000000"}},
                "color": {"field": "on", "type": "nominal", "scale": {"domain": [0, 1], "range": ["#dedede", "#333333"]}, "legend": null}}},
             {"data": {"name": "inter"}, "transform": [{"filter": "datum.p == 'C1'"}, {"fold": ["Transition", "Inlet", "Inner"], "as": ["set", "on"]}, {"filter": "datum.on == 1"}],
              "mark": {"type": "line", "color": "#333333", "strokeWidth": 1.4},
              "encoding": {
                "x": {"field": "i", "type": "ordinal", "axis": null, "bandPosition": 0.5, "scale": {"type": "band", "paddingInner": 0.17, "paddingOuter": 0.48}},
                "y": {"field": "set", "type": "nominal", "bandPosition": 0.5, "scale": {"domain": ["Transition", "Inlet", "Inner"], "paddingInner": 0, "paddingOuter": 0},
                  "axis": {"title": null, "domain": false, "ticks": false, "tickSize": 0, "labelAlign": "center", "labelPadding": 29, "labelFontSize": 11, "labelColor": "#000000"}},
                "detail": {"field": "i", "type": "ordinal"}}}
           ]}
        ]},
        {"width": 1, "height": 1, "data": {"values": []}, "mark": {"type": "point", "opacity": 0}, "encoding": {}},
        {"columns": 2, "spacing": {"row": 2, "column": -2}, "resolve": {"scale": {"x": "independent", "y": "independent", "color": "independent"}},
         "concat": [
          {"width": 50, "height": 146, "data": {"name": "panels"}, "transform": [{"filter": "datum.p == 'C2'"}],
           "mark": {"type": "text", "angle": 270, "lineBreak": "\n", "fontSize": 13, "lineHeight": 13.5, "dy": -13.5, "color": "#000000"},
           "encoding": {"text": {"field": "label", "type": "nominal"}}},
          {"width": 118, "height": 146, "data": {"name": "inter"}, "transform": [{"filter": "datum.p == 'C2'"}],
           "encoding": {
             "x": {"field": "i", "type": "ordinal", "axis": null, "scale": {"paddingInner": 0.39, "paddingOuter": 0.7}},
             "y": {"field": "n", "type": "quantitative", "scale": {"domain": [0, 250.7], "nice": false},
                   "axis": {"values": [0, 50, 100, 150, 200, 250], "title": null, "labelFontSize": 10.5, "labelFlush": true, "domainColor": "#8c8c8c"}}},
           "layer": [
             {"mark": {"type": "bar", "color": "#333333"}},
             {"mark": {"type": "text", "baseline": "bottom", "dy": -3, "fontSize": 7, "color": "#4d4d4d"}, "encoding": {"text": {"field": "n", "type": "quantitative"}}}
           ]},
          {"width": 50, "height": 40, "data": {"name": "sets"}, "transform": [{"filter": "datum.p == 'C2'"}],
           "mark": {"type": "bar"},
           "encoding": {
             "y": {"field": "set", "type": "nominal", "axis": null, "scale": {"domain": ["Relax", "Intense"], "paddingInner": 0.5, "paddingOuter": 0.25}},
             "x": {"field": "size", "type": "quantitative", "scale": {"domain": [0, 262], "reverse": true, "nice": false},
                   "axis": {"values": [0, 100, 200], "labelAngle": 270, "labelFontSize": 8, "title": "# genes", "titleFontSize": 10, "titlePadding": 3}},
             "color": {"field": "r", "type": "nominal", "scale": {"domain": [1, 2], "range": ["#0000FF", "#FF0000"]}, "legend": null}}},
          {"width": 118, "height": 40,
           "layer": [
             {"data": {"name": "sets"}, "transform": [{"filter": "datum.p == 'C2' && datum.r == 2"}],
              "mark": {"type": "rect", "color": "#f2f2f2"},
              "encoding": {"y": {"field": "set", "type": "nominal", "scale": {"domain": ["Relax", "Intense"], "paddingInner": 0, "paddingOuter": 0},
                "axis": {"title": null, "domain": false, "ticks": false, "tickSize": 0, "labelAlign": "center", "labelPadding": 23, "labelFontSize": 11, "labelColor": "#000000"}}}},
             {"data": {"name": "inter"}, "transform": [{"filter": "datum.p == 'C2'"}, {"fold": ["Relax", "Intense"], "as": ["set", "on"]}],
              "mark": {"type": "circle", "size": 30, "opacity": 1},
              "encoding": {
                "x": {"field": "i", "type": "ordinal", "axis": null, "bandPosition": 0.5, "scale": {"type": "band", "paddingInner": 0.39, "paddingOuter": 0.7}},
                "y": {"field": "set", "type": "nominal", "bandPosition": 0.5, "scale": {"domain": ["Relax", "Intense"], "paddingInner": 0, "paddingOuter": 0},
                  "axis": {"title": null, "domain": false, "ticks": false, "tickSize": 0, "labelAlign": "center", "labelPadding": 23, "labelFontSize": 11, "labelColor": "#000000"}},
                "color": {"field": "on", "type": "nominal", "scale": {"domain": [0, 1], "range": ["#dedede", "#333333"]}, "legend": null}}},
             {"data": {"name": "inter"}, "transform": [{"filter": "datum.p == 'C2'"}, {"fold": ["Relax", "Intense"], "as": ["set", "on"]}, {"filter": "datum.on == 1"}],
              "mark": {"type": "line", "color": "#333333", "strokeWidth": 1.4},
              "encoding": {
                "x": {"field": "i", "type": "ordinal", "axis": null, "bandPosition": 0.5, "scale": {"type": "band", "paddingInner": 0.39, "paddingOuter": 0.7}},
                "y": {"field": "set", "type": "nominal", "bandPosition": 0.5, "scale": {"domain": ["Relax", "Intense"], "paddingInner": 0, "paddingOuter": 0},
                  "axis": {"title": null, "domain": false, "ticks": false, "tickSize": 0, "labelAlign": "center", "labelPadding": 23, "labelFontSize": 11, "labelColor": "#000000"}},
                "detail": {"field": "i", "type": "ordinal"}}}
           ]}
        ]},
        {"columns": 2, "spacing": {"row": 2, "column": -2}, "resolve": {"scale": {"x": "independent", "y": "independent", "color": "independent"}},
         "concat": [
          {"width": 50, "height": 146, "data": {"name": "panels"}, "transform": [{"filter": "datum.p == 'C3'"}],
           "mark": {"type": "text", "angle": 270, "lineBreak": "\n", "fontSize": 13, "lineHeight": 13.5, "dy": -13.5, "color": "#000000"},
           "encoding": {"text": {"field": "label", "type": "nominal"}}},
          {"width": 106, "height": 146, "data": {"name": "inter"}, "transform": [{"filter": "datum.p == 'C3'"}],
           "encoding": {
             "x": {"field": "i", "type": "ordinal", "axis": null, "scale": {"paddingInner": 0.41, "paddingOuter": 0.67}},
             "y": {"field": "n", "type": "quantitative", "scale": {"domain": [0, 272.6], "nice": false},
                   "axis": {"values": [0, 100, 200], "title": null, "labelFontSize": 10.5, "labelFlush": true, "domainColor": "#8c8c8c"}}},
           "layer": [
             {"mark": {"type": "bar", "color": "#333333"}},
             {"mark": {"type": "text", "baseline": "bottom", "dy": -3, "fontSize": 7, "color": "#4d4d4d"}, "encoding": {"text": {"field": "n", "type": "quantitative"}}}
           ]},
          {"width": 50, "height": 40, "data": {"name": "sets"}, "transform": [{"filter": "datum.p == 'C3'"}],
           "mark": {"type": "bar"},
           "encoding": {
             "y": {"field": "set", "type": "nominal", "axis": null, "scale": {"domain": ["Seagrass", "Bare"], "paddingInner": 0.5, "paddingOuter": 0.25}},
             "x": {"field": "size", "type": "quantitative", "scale": {"domain": [0, 269], "reverse": true, "nice": false},
                   "axis": {"values": [0, 100, 200], "labelAngle": 270, "labelFontSize": 8, "title": "# genes", "titleFontSize": 10, "titlePadding": 3}},
             "color": {"field": "r", "type": "nominal", "scale": {"domain": [1, 2], "range": ["#FF6600", "#008000"]}, "legend": null}}},
          {"width": 106, "height": 40,
           "layer": [
             {"data": {"name": "sets"}, "transform": [{"filter": "datum.p == 'C3' && datum.r == 2"}],
              "mark": {"type": "rect", "color": "#f2f2f2"},
              "encoding": {"y": {"field": "set", "type": "nominal", "scale": {"domain": ["Seagrass", "Bare"], "paddingInner": 0, "paddingOuter": 0},
                "axis": {"title": null, "domain": false, "ticks": false, "tickSize": 0, "labelAlign": "center", "labelPadding": 28, "labelFontSize": 11, "labelColor": "#000000"}}}},
             {"data": {"name": "inter"}, "transform": [{"filter": "datum.p == 'C3'"}, {"fold": ["Seagrass", "Bare"], "as": ["set", "on"]}],
              "mark": {"type": "circle", "size": 30, "opacity": 1},
              "encoding": {
                "x": {"field": "i", "type": "ordinal", "axis": null, "bandPosition": 0.5, "scale": {"type": "band", "paddingInner": 0.41, "paddingOuter": 0.67}},
                "y": {"field": "set", "type": "nominal", "bandPosition": 0.5, "scale": {"domain": ["Seagrass", "Bare"], "paddingInner": 0, "paddingOuter": 0},
                  "axis": {"title": null, "domain": false, "ticks": false, "tickSize": 0, "labelAlign": "center", "labelPadding": 28, "labelFontSize": 11, "labelColor": "#000000"}},
                "color": {"field": "on", "type": "nominal", "scale": {"domain": [0, 1], "range": ["#dedede", "#333333"]}, "legend": null}}},
             {"data": {"name": "inter"}, "transform": [{"filter": "datum.p == 'C3'"}, {"fold": ["Seagrass", "Bare"], "as": ["set", "on"]}, {"filter": "datum.on == 1"}],
              "mark": {"type": "line", "color": "#333333", "strokeWidth": 1.4},
              "encoding": {
                "x": {"field": "i", "type": "ordinal", "axis": null, "bandPosition": 0.5, "scale": {"type": "band", "paddingInner": 0.41, "paddingOuter": 0.67}},
                "y": {"field": "set", "type": "nominal", "bandPosition": 0.5, "scale": {"domain": ["Seagrass", "Bare"], "paddingInner": 0, "paddingOuter": 0},
                  "axis": {"title": null, "domain": false, "ticks": false, "tickSize": 0, "labelAlign": "center", "labelPadding": 28, "labelFontSize": 11, "labelColor": "#000000"}},
                "detail": {"field": "i", "type": "ordinal"}}}
           ]}
        ]}
      ]
    },
    {
      "title": {"text": "D"},
      "spacing": 29,
      "resolve": {"scale": {"x": "independent", "y": "independent", "color": "independent"}},
      "hconcat": [
        {"columns": 2, "spacing": {"row": 2, "column": -2}, "resolve": {"scale": {"x": "independent", "y": "independent", "color": "independent"}},
         "concat": [
          {"width": 50, "height": 146, "data": {"name": "panels"}, "transform": [{"filter": "datum.p == 'D1'"}],
           "mark": {"type": "text", "angle": 270, "lineBreak": "\n", "fontSize": 13, "lineHeight": 13.5, "dy": -13.5, "color": "#000000"},
           "encoding": {"text": {"field": "label", "type": "nominal"}}},
          {"width": 104, "height": 146, "data": {"name": "inter"}, "transform": [{"filter": "datum.p == 'D1'"}],
           "encoding": {
             "x": {"field": "i", "type": "ordinal", "axis": null, "scale": {"paddingInner": 0.17, "paddingOuter": 0.48}},
             "y": {"field": "n", "type": "quantitative", "scale": {"domain": [0, 70.2], "nice": false},
                   "axis": {"values": [0, 20, 40, 60], "title": null, "labelFontSize": 10.5, "labelFlush": true, "domainColor": "#8c8c8c"}}},
           "layer": [
             {"mark": {"type": "bar", "color": "#333333"}},
             {"mark": {"type": "text", "baseline": "bottom", "dy": -3, "fontSize": 7, "color": "#4d4d4d"}, "encoding": {"text": {"field": "n", "type": "quantitative"}}}
           ]},
          {"width": 50, "height": 40, "data": {"name": "sets"}, "transform": [{"filter": "datum.p == 'D1'"}],
           "mark": {"type": "bar"},
           "encoding": {
             "y": {"field": "set", "type": "nominal", "axis": null, "scale": {"domain": ["Transition", "Inner", "Inlet"], "paddingInner": 0.5, "paddingOuter": 0.25}},
             "x": {"field": "size", "type": "quantitative", "scale": {"domain": [0, 135], "reverse": true, "nice": false},
                   "axis": {"values": [0, 50, 100], "labelAngle": 270, "labelFontSize": 8, "title": "# genes", "titleFontSize": 10, "titlePadding": 3}},
             "color": {"field": "r", "type": "nominal", "scale": {"domain": [1, 2, 3], "range": ["#808080", "#C9A83B", "#56B4E9"]}, "legend": null}}},
          {"width": 104, "height": 40,
           "layer": [
             {"data": {"name": "sets"}, "transform": [{"filter": "datum.p == 'D1' && datum.r != 2"}],
              "mark": {"type": "rect", "color": "#f2f2f2"},
              "encoding": {"y": {"field": "set", "type": "nominal", "scale": {"domain": ["Transition", "Inner", "Inlet"], "paddingInner": 0, "paddingOuter": 0},
                "axis": {"title": null, "domain": false, "ticks": false, "tickSize": 0, "labelAlign": "center", "labelPadding": 29, "labelFontSize": 11, "labelColor": "#000000"}}}},
             {"data": {"name": "inter"}, "transform": [{"filter": "datum.p == 'D1'"}, {"fold": ["Transition", "Inner", "Inlet"], "as": ["set", "on"]}],
              "mark": {"type": "circle", "size": 30, "opacity": 1},
              "encoding": {
                "x": {"field": "i", "type": "ordinal", "axis": null, "bandPosition": 0.5, "scale": {"type": "band", "paddingInner": 0.17, "paddingOuter": 0.48}},
                "y": {"field": "set", "type": "nominal", "bandPosition": 0.5, "scale": {"domain": ["Transition", "Inner", "Inlet"], "paddingInner": 0, "paddingOuter": 0},
                  "axis": {"title": null, "domain": false, "ticks": false, "tickSize": 0, "labelAlign": "center", "labelPadding": 29, "labelFontSize": 11, "labelColor": "#000000"}},
                "color": {"field": "on", "type": "nominal", "scale": {"domain": [0, 1], "range": ["#dedede", "#333333"]}, "legend": null}}},
             {"data": {"name": "inter"}, "transform": [{"filter": "datum.p == 'D1'"}, {"fold": ["Transition", "Inner", "Inlet"], "as": ["set", "on"]}, {"filter": "datum.on == 1"}],
              "mark": {"type": "line", "color": "#333333", "strokeWidth": 1.4},
              "encoding": {
                "x": {"field": "i", "type": "ordinal", "axis": null, "bandPosition": 0.5, "scale": {"type": "band", "paddingInner": 0.17, "paddingOuter": 0.48}},
                "y": {"field": "set", "type": "nominal", "bandPosition": 0.5, "scale": {"domain": ["Transition", "Inner", "Inlet"], "paddingInner": 0, "paddingOuter": 0},
                  "axis": {"title": null, "domain": false, "ticks": false, "tickSize": 0, "labelAlign": "center", "labelPadding": 29, "labelFontSize": 11, "labelColor": "#000000"}},
                "detail": {"field": "i", "type": "ordinal"}}}
           ]}
        ]},
        {"width": 1, "height": 1, "data": {"values": []}, "mark": {"type": "point", "opacity": 0}, "encoding": {}},
        {"columns": 2, "spacing": {"row": 2, "column": -2}, "resolve": {"scale": {"x": "independent", "y": "independent", "color": "independent"}},
         "concat": [
          {"width": 50, "height": 146, "data": {"name": "panels"}, "transform": [{"filter": "datum.p == 'D2'"}],
           "mark": {"type": "text", "angle": 270, "lineBreak": "\n", "fontSize": 13, "lineHeight": 13.5, "dy": -13.5, "color": "#000000"},
           "encoding": {"text": {"field": "label", "type": "nominal"}}},
          {"width": 118, "height": 146, "data": {"name": "inter"}, "transform": [{"filter": "datum.p == 'D2'"}],
           "encoding": {
             "x": {"field": "i", "type": "ordinal", "axis": null, "scale": {"paddingInner": 0.39, "paddingOuter": 0.7}},
             "y": {"field": "n", "type": "quantitative", "scale": {"domain": [0, 105.8], "nice": false},
                   "axis": {"values": [0, 25, 50, 75, 100], "title": null, "labelFontSize": 10.5, "labelFlush": true, "domainColor": "#8c8c8c"}}},
           "layer": [
             {"mark": {"type": "bar", "color": "#333333"}},
             {"mark": {"type": "text", "baseline": "bottom", "dy": -3, "fontSize": 7, "color": "#4d4d4d"}, "encoding": {"text": {"field": "n", "type": "quantitative"}}}
           ]},
          {"width": 50, "height": 40, "data": {"name": "sets"}, "transform": [{"filter": "datum.p == 'D2'"}],
           "mark": {"type": "bar"},
           "encoding": {
             "y": {"field": "set", "type": "nominal", "axis": null, "scale": {"domain": ["Intense", "Relax"], "paddingInner": 0.5, "paddingOuter": 0.25}},
             "x": {"field": "size", "type": "quantitative", "scale": {"domain": [0, 154], "reverse": true, "nice": false},
                   "axis": {"values": [0, 50, 100, 150], "labelAngle": 270, "labelFontSize": 8, "title": "# genes", "titleFontSize": 10, "titlePadding": 3}},
             "color": {"field": "r", "type": "nominal", "scale": {"domain": [1, 2], "range": ["#0000FF", "#FF0000"]}, "legend": null}}},
          {"width": 118, "height": 40,
           "layer": [
             {"data": {"name": "sets"}, "transform": [{"filter": "datum.p == 'D2' && datum.r == 2"}],
              "mark": {"type": "rect", "color": "#f2f2f2"},
              "encoding": {"y": {"field": "set", "type": "nominal", "scale": {"domain": ["Intense", "Relax"], "paddingInner": 0, "paddingOuter": 0},
                "axis": {"title": null, "domain": false, "ticks": false, "tickSize": 0, "labelAlign": "center", "labelPadding": 23, "labelFontSize": 11, "labelColor": "#000000"}}}},
             {"data": {"name": "inter"}, "transform": [{"filter": "datum.p == 'D2'"}, {"fold": ["Intense", "Relax"], "as": ["set", "on"]}],
              "mark": {"type": "circle", "size": 30, "opacity": 1},
              "encoding": {
                "x": {"field": "i", "type": "ordinal", "axis": null, "bandPosition": 0.5, "scale": {"type": "band", "paddingInner": 0.39, "paddingOuter": 0.7}},
                "y": {"field": "set", "type": "nominal", "bandPosition": 0.5, "scale": {"domain": ["Intense", "Relax"], "paddingInner": 0, "paddingOuter": 0},
                  "axis": {"title": null, "domain": false, "ticks": false, "tickSize": 0, "labelAlign": "center", "labelPadding": 23, "labelFontSize": 11, "labelColor": "#000000"}},
                "color": {"field": "on", "type": "nominal", "scale": {"domain": [0, 1], "range": ["#dedede", "#333333"]}, "legend": null}}},
             {"data": {"name": "inter"}, "transform": [{"filter": "datum.p == 'D2'"}, {"fold": ["Intense", "Relax"], "as": ["set", "on"]}, {"filter": "datum.on == 1"}],
              "mark": {"type": "line", "color": "#333333", "strokeWidth": 1.4},
              "encoding": {
                "x": {"field": "i", "type": "ordinal", "axis": null, "bandPosition": 0.5, "scale": {"type": "band", "paddingInner": 0.39, "paddingOuter": 0.7}},
                "y": {"field": "set", "type": "nominal", "bandPosition": 0.5, "scale": {"domain": ["Intense", "Relax"], "paddingInner": 0, "paddingOuter": 0},
                  "axis": {"title": null, "domain": false, "ticks": false, "tickSize": 0, "labelAlign": "center", "labelPadding": 23, "labelFontSize": 11, "labelColor": "#000000"}},
                "detail": {"field": "i", "type": "ordinal"}}}
           ]}
        ]},
        {"columns": 2, "spacing": {"row": 2, "column": -2}, "resolve": {"scale": {"x": "independent", "y": "independent", "color": "independent"}},
         "concat": [
          {"width": 50, "height": 146, "data": {"name": "panels"}, "transform": [{"filter": "datum.p == 'D3'"}],
           "mark": {"type": "text", "angle": 270, "lineBreak": "\n", "fontSize": 13, "lineHeight": 13.5, "dy": -13.5, "color": "#000000"},
           "encoding": {"text": {"field": "label", "type": "nominal"}}},
          {"width": 106, "height": 146, "data": {"name": "inter"}, "transform": [{"filter": "datum.p == 'D3'"}],
           "encoding": {
             "x": {"field": "i", "type": "ordinal", "axis": null, "scale": {"paddingInner": 0.41, "paddingOuter": 0.67}},
             "y": {"field": "n", "type": "quantitative", "scale": {"domain": [0, 131], "nice": false},
                   "axis": {"values": [0, 40, 80, 120], "title": null, "labelFontSize": 10.5, "labelFlush": true, "domainColor": "#8c8c8c"}}},
           "layer": [
             {"mark": {"type": "bar", "color": "#333333"}},
             {"mark": {"type": "text", "baseline": "bottom", "dy": -3, "fontSize": 7, "color": "#4d4d4d"}, "encoding": {"text": {"field": "n", "type": "quantitative"}}}
           ]},
          {"width": 50, "height": 40, "data": {"name": "sets"}, "transform": [{"filter": "datum.p == 'D3'"}],
           "mark": {"type": "bar"},
           "encoding": {
             "y": {"field": "set", "type": "nominal", "axis": null, "scale": {"domain": ["Bare", "Seagrass"], "paddingInner": 0.5, "paddingOuter": 0.25}},
             "x": {"field": "size", "type": "quantitative", "scale": {"domain": [0, 165], "reverse": true, "nice": false},
                   "axis": {"values": [0, 50, 100, 150], "labelAngle": 270, "labelFontSize": 8, "title": "# genes", "titleFontSize": 10, "titlePadding": 3}},
             "color": {"field": "r", "type": "nominal", "scale": {"domain": [1, 2], "range": ["#FF6600", "#008000"]}, "legend": null}}},
          {"width": 106, "height": 40,
           "layer": [
             {"data": {"name": "sets"}, "transform": [{"filter": "datum.p == 'D3' && datum.r == 2"}],
              "mark": {"type": "rect", "color": "#f2f2f2"},
              "encoding": {"y": {"field": "set", "type": "nominal", "scale": {"domain": ["Bare", "Seagrass"], "paddingInner": 0, "paddingOuter": 0},
                "axis": {"title": null, "domain": false, "ticks": false, "tickSize": 0, "labelAlign": "center", "labelPadding": 28, "labelFontSize": 11, "labelColor": "#000000"}}}},
             {"data": {"name": "inter"}, "transform": [{"filter": "datum.p == 'D3'"}, {"fold": ["Bare", "Seagrass"], "as": ["set", "on"]}],
              "mark": {"type": "circle", "size": 30, "opacity": 1},
              "encoding": {
                "x": {"field": "i", "type": "ordinal", "axis": null, "bandPosition": 0.5, "scale": {"type": "band", "paddingInner": 0.41, "paddingOuter": 0.67}},
                "y": {"field": "set", "type": "nominal", "bandPosition": 0.5, "scale": {"domain": ["Bare", "Seagrass"], "paddingInner": 0, "paddingOuter": 0},
                  "axis": {"title": null, "domain": false, "ticks": false, "tickSize": 0, "labelAlign": "center", "labelPadding": 28, "labelFontSize": 11, "labelColor": "#000000"}},
                "color": {"field": "on", "type": "nominal", "scale": {"domain": [0, 1], "range": ["#dedede", "#333333"]}, "legend": null}}},
             {"data": {"name": "inter"}, "transform": [{"filter": "datum.p == 'D3'"}, {"fold": ["Bare", "Seagrass"], "as": ["set", "on"]}, {"filter": "datum.on == 1"}],
              "mark": {"type": "line", "color": "#333333", "strokeWidth": 1.4},
              "encoding": {
                "x": {"field": "i", "type": "ordinal", "axis": null, "bandPosition": 0.5, "scale": {"type": "band", "paddingInner": 0.41, "paddingOuter": 0.67}},
                "y": {"field": "set", "type": "nominal", "bandPosition": 0.5, "scale": {"domain": ["Bare", "Seagrass"], "paddingInner": 0, "paddingOuter": 0},
                  "axis": {"title": null, "domain": false, "ticks": false, "tickSize": 0, "labelAlign": "center", "labelPadding": 28, "labelFontSize": 11, "labelColor": "#000000"}},
                "detail": {"field": "i", "type": "ordinal"}}}
           ]}
        ]}
      ]
    },
    {
      "title": {"text": "E"},
      "spacing": 29,
      "resolve": {"scale": {"x": "independent", "y": "independent", "color": "independent"}},
      "hconcat": [
        {"columns": 2, "spacing": {"row": 2, "column": -2}, "resolve": {"scale": {"x": "independent", "y": "independent", "color": "independent"}},
         "concat": [
          {"width": 50, "height": 146, "data": {"name": "panels"}, "transform": [{"filter": "datum.p == 'E1'"}],
           "mark": {"type": "text", "angle": 270, "lineBreak": "\n", "fontSize": 13, "lineHeight": 13.5, "dy": -13.5, "color": "#000000"},
           "encoding": {"text": {"field": "label", "type": "nominal"}}},
          {"width": 104, "height": 146, "data": {"name": "inter"}, "transform": [{"filter": "datum.p == 'E1'"}],
           "encoding": {
             "x": {"field": "i", "type": "ordinal", "axis": null, "scale": {"paddingInner": 0.17, "paddingOuter": 0.48}},
             "y": {"field": "n", "type": "quantitative", "scale": {"domain": [0, 669], "nice": false},
                   "axis": {"values": [0, 200, 400, 600], "title": null, "labelFontSize": 10.5, "labelFlush": true, "domainColor": "#8c8c8c"}}},
           "layer": [
             {"mark": {"type": "bar", "color": "#333333"}},
             {"mark": {"type": "text", "baseline": "bottom", "dy": -3, "fontSize": 7, "color": "#4d4d4d"}, "encoding": {"text": {"field": "n", "type": "quantitative"}}}
           ]},
          {"width": 50, "height": 40, "data": {"name": "sets"}, "transform": [{"filter": "datum.p == 'E1'"}],
           "mark": {"type": "bar"},
           "encoding": {
             "y": {"field": "set", "type": "nominal", "axis": null, "scale": {"domain": ["Transition", "Inner", "Inlet"], "paddingInner": 0.5, "paddingOuter": 0.25}},
             "x": {"field": "size", "type": "quantitative", "scale": {"domain": [0, 1003], "reverse": true, "nice": false},
                   "axis": {"values": [0, 250, 500, 750, 1000], "format": "d", "labelAngle": 270, "labelFontSize": 8, "title": "# genes", "titleFontSize": 10, "titlePadding": 3}},
             "color": {"field": "r", "type": "nominal", "scale": {"domain": [1, 2, 3], "range": ["#808080", "#C9A83B", "#56B4E9"]}, "legend": null}}},
          {"width": 104, "height": 40,
           "layer": [
             {"data": {"name": "sets"}, "transform": [{"filter": "datum.p == 'E1' && datum.r != 2"}],
              "mark": {"type": "rect", "color": "#f2f2f2"},
              "encoding": {"y": {"field": "set", "type": "nominal", "scale": {"domain": ["Transition", "Inner", "Inlet"], "paddingInner": 0, "paddingOuter": 0},
                "axis": {"title": null, "domain": false, "ticks": false, "tickSize": 0, "labelAlign": "center", "labelPadding": 29, "labelFontSize": 11, "labelColor": "#000000"}}}},
             {"data": {"name": "inter"}, "transform": [{"filter": "datum.p == 'E1'"}, {"fold": ["Transition", "Inner", "Inlet"], "as": ["set", "on"]}],
              "mark": {"type": "circle", "size": 30, "opacity": 1},
              "encoding": {
                "x": {"field": "i", "type": "ordinal", "axis": null, "bandPosition": 0.5, "scale": {"type": "band", "paddingInner": 0.17, "paddingOuter": 0.48}},
                "y": {"field": "set", "type": "nominal", "bandPosition": 0.5, "scale": {"domain": ["Transition", "Inner", "Inlet"], "paddingInner": 0, "paddingOuter": 0},
                  "axis": {"title": null, "domain": false, "ticks": false, "tickSize": 0, "labelAlign": "center", "labelPadding": 29, "labelFontSize": 11, "labelColor": "#000000"}},
                "color": {"field": "on", "type": "nominal", "scale": {"domain": [0, 1], "range": ["#dedede", "#333333"]}, "legend": null}}},
             {"data": {"name": "inter"}, "transform": [{"filter": "datum.p == 'E1'"}, {"fold": ["Transition", "Inner", "Inlet"], "as": ["set", "on"]}, {"filter": "datum.on == 1"}],
              "mark": {"type": "line", "color": "#333333", "strokeWidth": 1.4},
              "encoding": {
                "x": {"field": "i", "type": "ordinal", "axis": null, "bandPosition": 0.5, "scale": {"type": "band", "paddingInner": 0.17, "paddingOuter": 0.48}},
                "y": {"field": "set", "type": "nominal", "bandPosition": 0.5, "scale": {"domain": ["Transition", "Inner", "Inlet"], "paddingInner": 0, "paddingOuter": 0},
                  "axis": {"title": null, "domain": false, "ticks": false, "tickSize": 0, "labelAlign": "center", "labelPadding": 29, "labelFontSize": 11, "labelColor": "#000000"}},
                "detail": {"field": "i", "type": "ordinal"}}}
           ]}
        ]},
        {"width": 1, "height": 1, "data": {"values": []}, "mark": {"type": "point", "opacity": 0}, "encoding": {}},
        {"columns": 2, "spacing": {"row": 2, "column": -2}, "resolve": {"scale": {"x": "independent", "y": "independent", "color": "independent"}},
         "concat": [
          {"width": 50, "height": 146, "data": {"name": "panels"}, "transform": [{"filter": "datum.p == 'E2'"}],
           "mark": {"type": "text", "angle": 270, "lineBreak": "\n", "fontSize": 13, "lineHeight": 13.5, "dy": -13.5, "color": "#000000"},
           "encoding": {"text": {"field": "label", "type": "nominal"}}},
          {"width": 118, "height": 146, "data": {"name": "inter"}, "transform": [{"filter": "datum.p == 'E2'"}],
           "encoding": {
             "x": {"field": "i", "type": "ordinal", "axis": null, "scale": {"paddingInner": 0.39, "paddingOuter": 0.7}},
             "y": {"field": "n", "type": "quantitative", "scale": {"domain": [0, 862.5], "nice": false},
                   "axis": {"values": [0, 200, 400, 600, 800], "title": null, "labelFontSize": 10.5, "labelFlush": true, "domainColor": "#8c8c8c"}}},
           "layer": [
             {"mark": {"type": "bar", "color": "#333333"}},
             {"mark": {"type": "text", "baseline": "bottom", "dy": -3, "fontSize": 7, "color": "#4d4d4d"}, "encoding": {"text": {"field": "n", "type": "quantitative"}}}
           ]},
          {"width": 50, "height": 40, "data": {"name": "sets"}, "transform": [{"filter": "datum.p == 'E2'"}],
           "mark": {"type": "bar"},
           "encoding": {
             "y": {"field": "set", "type": "nominal", "axis": null, "scale": {"domain": ["Relax", "Intense"], "paddingInner": 0.5, "paddingOuter": 0.25}},
             "x": {"field": "size", "type": "quantitative", "scale": {"domain": [0, 1040], "reverse": true, "nice": false},
                   "axis": {"values": [0, 250, 500, 750, 1000], "format": "d", "labelAngle": 270, "labelFontSize": 8, "title": "# genes", "titleFontSize": 10, "titlePadding": 3}},
             "color": {"field": "r", "type": "nominal", "scale": {"domain": [1, 2], "range": ["#0000FF", "#FF0000"]}, "legend": null}}},
          {"width": 118, "height": 40,
           "layer": [
             {"data": {"name": "sets"}, "transform": [{"filter": "datum.p == 'E2' && datum.r == 2"}],
              "mark": {"type": "rect", "color": "#f2f2f2"},
              "encoding": {"y": {"field": "set", "type": "nominal", "scale": {"domain": ["Relax", "Intense"], "paddingInner": 0, "paddingOuter": 0},
                "axis": {"title": null, "domain": false, "ticks": false, "tickSize": 0, "labelAlign": "center", "labelPadding": 23, "labelFontSize": 11, "labelColor": "#000000"}}}},
             {"data": {"name": "inter"}, "transform": [{"filter": "datum.p == 'E2'"}, {"fold": ["Relax", "Intense"], "as": ["set", "on"]}],
              "mark": {"type": "circle", "size": 30, "opacity": 1},
              "encoding": {
                "x": {"field": "i", "type": "ordinal", "axis": null, "bandPosition": 0.5, "scale": {"type": "band", "paddingInner": 0.39, "paddingOuter": 0.7}},
                "y": {"field": "set", "type": "nominal", "bandPosition": 0.5, "scale": {"domain": ["Relax", "Intense"], "paddingInner": 0, "paddingOuter": 0},
                  "axis": {"title": null, "domain": false, "ticks": false, "tickSize": 0, "labelAlign": "center", "labelPadding": 23, "labelFontSize": 11, "labelColor": "#000000"}},
                "color": {"field": "on", "type": "nominal", "scale": {"domain": [0, 1], "range": ["#dedede", "#333333"]}, "legend": null}}},
             {"data": {"name": "inter"}, "transform": [{"filter": "datum.p == 'E2'"}, {"fold": ["Relax", "Intense"], "as": ["set", "on"]}, {"filter": "datum.on == 1"}],
              "mark": {"type": "line", "color": "#333333", "strokeWidth": 1.4},
              "encoding": {
                "x": {"field": "i", "type": "ordinal", "axis": null, "bandPosition": 0.5, "scale": {"type": "band", "paddingInner": 0.39, "paddingOuter": 0.7}},
                "y": {"field": "set", "type": "nominal", "bandPosition": 0.5, "scale": {"domain": ["Relax", "Intense"], "paddingInner": 0, "paddingOuter": 0},
                  "axis": {"title": null, "domain": false, "ticks": false, "tickSize": 0, "labelAlign": "center", "labelPadding": 23, "labelFontSize": 11, "labelColor": "#000000"}},
                "detail": {"field": "i", "type": "ordinal"}}}
           ]}
        ]},
        {"columns": 2, "spacing": {"row": 2, "column": -2}, "resolve": {"scale": {"x": "independent", "y": "independent", "color": "independent"}},
         "concat": [
          {"width": 50, "height": 146, "data": {"name": "panels"}, "transform": [{"filter": "datum.p == 'E3'"}],
           "mark": {"type": "text", "angle": 270, "lineBreak": "\n", "fontSize": 13, "lineHeight": 13.5, "dy": -13.5, "color": "#000000"},
           "encoding": {"text": {"field": "label", "type": "nominal"}}},
          {"width": 106, "height": 146, "data": {"name": "inter"}, "transform": [{"filter": "datum.p == 'E3'"}],
           "encoding": {
             "x": {"field": "i", "type": "ordinal", "axis": null, "scale": {"paddingInner": 0.41, "paddingOuter": 0.67}},
             "y": {"field": "n", "type": "quantitative", "scale": {"domain": [0, 963.7], "nice": false},
                   "axis": {"values": [0, 250, 500, 750], "title": null, "labelFontSize": 10.5, "labelFlush": true, "domainColor": "#8c8c8c"}}},
           "layer": [
             {"mark": {"type": "bar", "color": "#333333"}},
             {"mark": {"type": "text", "baseline": "bottom", "dy": -3, "fontSize": 7, "color": "#4d4d4d"}, "encoding": {"text": {"field": "n", "type": "quantitative"}}}
           ]},
          {"width": 50, "height": 40, "data": {"name": "sets"}, "transform": [{"filter": "datum.p == 'E3'"}],
           "mark": {"type": "bar"},
           "encoding": {
             "y": {"field": "set", "type": "nominal", "axis": null, "scale": {"domain": ["Bare", "Seagrass"], "paddingInner": 0.5, "paddingOuter": 0.25}},
             "x": {"field": "size", "type": "quantitative", "scale": {"domain": [0, 1042], "reverse": true, "nice": false},
                   "axis": {"values": [0, 250, 500, 750, 1000], "format": "d", "labelAngle": 270, "labelFontSize": 8, "title": "# genes", "titleFontSize": 10, "titlePadding": 3}},
             "color": {"field": "r", "type": "nominal", "scale": {"domain": [1, 2], "range": ["#FF6600", "#008000"]}, "legend": null}}},
          {"width": 106, "height": 40,
           "layer": [
             {"data": {"name": "sets"}, "transform": [{"filter": "datum.p == 'E3' && datum.r == 2"}],
              "mark": {"type": "rect", "color": "#f2f2f2"},
              "encoding": {"y": {"field": "set", "type": "nominal", "scale": {"domain": ["Bare", "Seagrass"], "paddingInner": 0, "paddingOuter": 0},
                "axis": {"title": null, "domain": false, "ticks": false, "tickSize": 0, "labelAlign": "center", "labelPadding": 28, "labelFontSize": 11, "labelColor": "#000000"}}}},
             {"data": {"name": "inter"}, "transform": [{"filter": "datum.p == 'E3'"}, {"fold": ["Bare", "Seagrass"], "as": ["set", "on"]}],
              "mark": {"type": "circle", "size": 30, "opacity": 1},
              "encoding": {
                "x": {"field": "i", "type": "ordinal", "axis": null, "bandPosition": 0.5, "scale": {"type": "band", "paddingInner": 0.41, "paddingOuter": 0.67}},
                "y": {"field": "set", "type": "nominal", "bandPosition": 0.5, "scale": {"domain": ["Bare", "Seagrass"], "paddingInner": 0, "paddingOuter": 0},
                  "axis": {"title": null, "domain": false, "ticks": false, "tickSize": 0, "labelAlign": "center", "labelPadding": 28, "labelFontSize": 11, "labelColor": "#000000"}},
                "color": {"field": "on", "type": "nominal", "scale": {"domain": [0, 1], "range": ["#dedede", "#333333"]}, "legend": null}}},
             {"data": {"name": "inter"}, "transform": [{"filter": "datum.p == 'E3'"}, {"fold": ["Bare", "Seagrass"], "as": ["set", "on"]}, {"filter": "datum.on == 1"}],
              "mark": {"type": "line", "color": "#333333", "strokeWidth": 1.4},
              "encoding": {
                "x": {"field": "i", "type": "ordinal", "axis": null, "bandPosition": 0.5, "scale": {"type": "band", "paddingInner": 0.41, "paddingOuter": 0.67}},
                "y": {"field": "set", "type": "nominal", "bandPosition": 0.5, "scale": {"domain": ["Bare", "Seagrass"], "paddingInner": 0, "paddingOuter": 0},
                  "axis": {"title": null, "domain": false, "ticks": false, "tickSize": 0, "labelAlign": "center", "labelPadding": 28, "labelFontSize": 11, "labelColor": "#000000"}},
                "detail": {"field": "i", "type": "ordinal"}}}
           ]}
        ]}
      ]
    }
  ]
}
